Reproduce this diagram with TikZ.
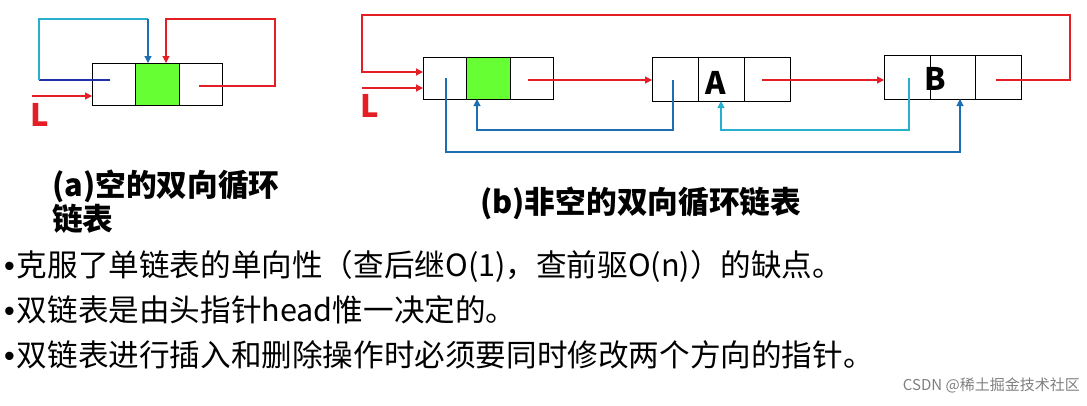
\documentclass[tikz,border=0pt]{standalone}
\usepackage{fontspec}
\newfontfamily\cjk{Noto Sans CJK SC}
\newfontfamily\latinbul{Liberation Sans}
\newcommand{\bul}{{\latinbul •}\hspace{2pt}}
\usetikzlibrary{arrows.meta}
\definecolor{myred}{RGB}{228,30,36}
\definecolor{myblue}{RGB}{30,110,180}
\definecolor{mycyan}{RGB}{40,175,205}
\definecolor{mydblue}{RGB}{30,50,170}
\definecolor{mygreen}{RGB}{102,255,51}
\tikzset{
  cell/.style={draw=black, line width=1.2pt, inner sep=0pt, anchor=north west},
  link/.style={line width=1.1pt},
  tip/.style={-{Triangle[length=7pt,width=7pt]}},
  title/.style={font=\cjk\bfseries\fontsize{30.7}{32}\selectfont, align=left, inner sep=0pt},
  body/.style={font=\cjk\fontsize{30.6}{32}\selectfont, inner sep=0pt, anchor=west},
  letter/.style={font=\cjk\bfseries\fontsize{31}{31}\selectfont, inner sep=0pt},
  lbl/.style={font=\cjk\bfseries\fontsize{31}{31}\selectfont, text=myred, inner sep=0pt}
}
\begin{document}
\begin{tikzpicture}[x=1pt,y=-1pt]
\useasboundingbox[fill=white] (0,0) rectangle (1087,405);

% ---------- (a) empty list ----------
\node[cell, minimum width=43pt, minimum height=42pt] (a1) at (92,63) {};
\node[cell, minimum width=44pt, minimum height=42pt, fill=mygreen] (a2) at (135,63) {};
\node[cell, minimum width=43pt, minimum height=42pt] (a3) at (179,63) {};
\node[lbl] (La) at (40,115) {L};

\coordinate (aLs) at (32,96);
\coordinate (aLe) at (92,96);
\draw[link, myred, tip] (aLs) -- (aLe);

\coordinate (ap) at (110,80);
\coordinate (apc) at (39,80);
\coordinate (apt) at (148,19);
\coordinate (ape) at (148,63);
\draw[link, mydblue] (ap) -- (apc);
\draw[link, mycyan] (apc) -- (39,19) -- (apt);
\draw[link, myblue, tip] (apt) -- (ape);

\coordinate (an) at (199,86);
\coordinate (ane) at (166,63);
\draw[link, myred, tip] (an) -- (275,86) -- (275,19) -- (166,19) -- (ane);

\node[title, anchor=west] (ta) at (52,202) {(a)空的双向循环\\链表};

% ---------- (b) non-empty list ----------
\node[cell, minimum width=43pt, minimum height=42pt] (b1) at (423,57) {};
\node[cell, minimum width=44pt, minimum height=42pt, fill=mygreen] (b2) at (466,57) {};
\node[cell, minimum width=43pt, minimum height=42pt] (b3) at (510,57) {};

\node[cell, minimum width=46pt, minimum height=44pt] (A1) at (652,57) {};
\node[cell, minimum width=46pt, minimum height=44pt] (A2) at (698,57) {};
\node[cell, minimum width=46pt, minimum height=44pt] (A3) at (744,57) {};
\node[letter] (Ltr) at (716,83) {A};

\node[cell, minimum width=46pt, minimum height=44pt] (B1) at (884,55) {};
\node[cell, minimum width=45pt, minimum height=44pt] (B2) at (930,55) {};
\node[cell, minimum width=46pt, minimum height=44pt] (B3) at (975,55) {};
\node[letter] (Btr) at (935,79) {B};

\node[lbl] (Lb) at (370,106) {L};

% head pointer L
\coordinate (bLs) at (362,88);
\coordinate (bLe) at (423,88);
\draw[link, myred, tip] (bLs) -- (bLe);

% circular next from B back to head
\coordinate (Bn) at (996,80);
\coordinate (Bne) at (423,72);
\draw[link, myred, tip] (Bn) -- (1070,80) -- (1070,15) -- (362,15) -- (362,72) -- (Bne);

% next pointers
\coordinate (b3n) at (528,80);
\coordinate (A1w) at (652,80);
\draw[link, myred, tip] (b3n) -- (A1w);
\coordinate (A3n) at (762,80);
\coordinate (B1w) at (884,80);
\draw[link, myred, tip] (A3n) -- (B1w);

% prior pointers
\coordinate (Ap) at (673,80);
\coordinate (b2s) at (477,99);
\draw[link, myblue, tip] (Ap) -- (673,130) -- (477,130) -- (b2s);

\coordinate (b1p) at (446,78);
\coordinate (B2s) at (960,99);
\draw[link, myblue, tip] (b1p) -- (446,152) -- (960,152) -- (B2s);

\coordinate (Bp) at (909,78);
\coordinate (A2s) at (721,101);
\draw[link, mycyan, tip] (Bp) -- (909,130) -- (721,130) -- (A2s);

\node[title, anchor=west] (tb) at (480,203) {(b)非空的双向循环链表};

% ---------- bullets ----------
\node[body] (t1) at (4,266) {\bul 克服了单链表的单向性（查后继O(1)，查前驱O(n)）的缺点。};
\node[body] (t2) at (4,310) {\bul 双链表是由头指针head惟一决定的。};
\node[body] (t3) at (4,355) {\bul 双链表进行插入和删除操作时必须要同时修改两个方向的指针。};

\node[font=\cjk\fontsize{15}{15}\selectfont, text=gray, anchor=east, inner sep=0pt] (wm) at (1080,385) {CSDN @稀土掘金技术社区};
\end{tikzpicture}
\end{document}
